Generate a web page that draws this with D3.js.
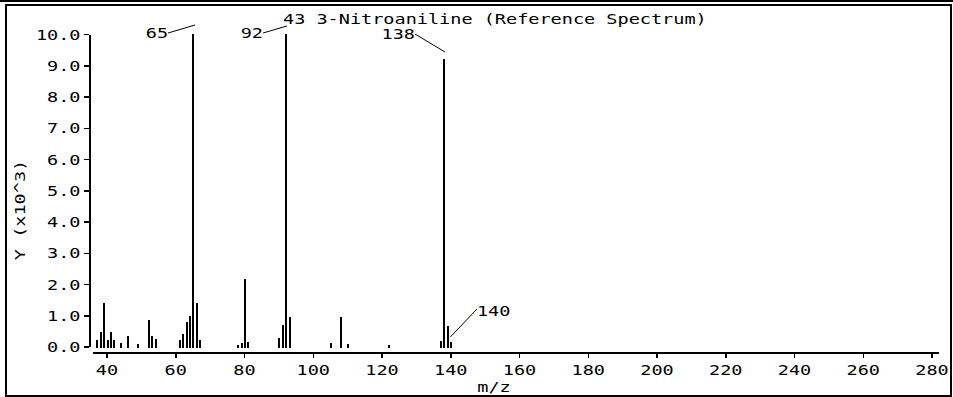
<!DOCTYPE html>
<html>
<head>
<meta charset="utf-8">
<script src="https://cdn.jsdelivr.net/npm/d3@7/dist/d3.min.js"></script>
<style>
  html, body { margin: 0; padding: 0; background: #fff; }
  svg { display: block; }
  text { font-family: "DejaVu Sans Mono", monospace; font-size: 14px; fill: #000; }
</style>
</head>
<body>
<svg id="chart" width="953" height="397"></svg>
<script>
// ---- data (intensity in units of 10^3) ----
const mzValues = [37, 38, 39, 40, 41, 42, 44, 46, 49, 52, 53, 54,
                  61, 62, 63, 64, 65, 66, 67,
                  78, 79, 80, 81, 90, 91, 92, 93,
                  105, 108, 110, 122, 137, 138, 139, 140];
const intensities = [0.22, 0.47, 1.40, 0.22, 0.47, 0.22, 0.10, 0.35, 0.07, 0.85, 0.35, 0.23,
                     0.22, 0.40, 0.80, 0.97, 10.0, 1.40, 0.20,
                     0.05, 0.10, 2.16, 0.15, 0.28, 0.70, 10.0, 0.95,
                     0.10, 0.95, 0.07, 0.06, 0.17, 9.2, 0.65, 0.13];
const labeledPeaks = [65, 92, 138, 140];
const xTickValues = [40, 60, 80, 100, 120, 140, 160, 180, 200, 220, 240, 260, 280];
const yTickValues = [0, 1, 2, 3, 4, 5, 6, 7, 8, 9, 10];
const titleText = "43 3-Nitroaniline (Reference Spectrum)";
const xLabel = "m/z";
const yLabel = "Y (x10^3)";

// ---- layout ----
const CH = 11.15; // character advance of the wide monospace look
const svg = d3.select("#chart");
const x = d3.scaleLinear().domain([36, 282]).range([92.75, 938.4]);
const y = d3.scaleLinear().domain([0, 10]).range([346.5, 34]);
const xAxisY = 352.5, yAxisX = 89;

// label leader offsets (relative to peak top): [lineStartDx, lineStartDy, lineEndDx, lineEndDy, anchor, textDy]
const labelLayout = {
  65:  [2.6, -9, -24.4, -1, "end", 5],
  92:  [1.75, -8, -22.25, -1, "end", 5],
  138: [1.6, -7, -28.4, -25, "end", 4.5],
  140: [0, -5.4, 26.7, -33.4, "start", 7]
};

function fitText(sel) {
  sel.each(function() {
    const t = d3.select(this);
    const n = (t.text() || "").length;
    t.attr("textLength", n * CH).attr("lengthAdjust", "spacingAndGlyphs");
  });
}

// frame
svg.append("line").attr("x1", 0).attr("x2", 953).attr("y1", 1).attr("y2", 1)
  .attr("stroke", "#000").attr("stroke-width", 1.5).attr("shape-rendering", "crispEdges");
svg.append("rect").attr("x", 6).attr("y", 4.5).attr("width", 945).attr("height", 391)
  .attr("fill", "none").attr("stroke", "#000").attr("stroke-width", 2)
  .attr("shape-rendering", "crispEdges");

// axes
const xAxis = d3.axisBottom(x).tickValues(xTickValues).tickSize(5).tickSizeOuter(0)
  .tickFormat(d3.format("d"));
const gx = svg.append("g").attr("transform", `translate(0,${xAxisY})`).call(xAxis);
const yAxis = d3.axisLeft(y).tickValues(yTickValues).tickSize(5).tickSizeOuter(0)
  .tickFormat(d3.format(".1f"));
const gy = svg.append("g").attr("transform", `translate(${yAxisX},0)`).call(yAxis);

[gx, gy].forEach(g => {
  g.attr("font-family", null).attr("font-size", null);
  g.select(".domain").attr("stroke", "#000").attr("stroke-width", 2).attr("shape-rendering", "crispEdges");
  g.selectAll(".tick line").attr("stroke", "#000").attr("stroke-width", 1.5).attr("shape-rendering", "crispEdges");
  g.selectAll(".tick text").attr("fill", "#000");
});
gx.selectAll(".tick text").attr("y", 22.5).attr("dy", 0).call(fitText);
gy.selectAll(".tick text").attr("x", -8.5).attr("dy", "0.36em").call(fitText);

// bars
const peaks = mzValues.map((m, i) => ({ mz: m, v: intensities[i] }));
svg.append("g").selectAll("line").data(peaks).join("line")
  .attr("x1", d => Math.round(x(d.mz)) + 1).attr("x2", d => Math.round(x(d.mz)) + 1)
  .attr("y1", y(0) + 1).attr("y2", d => y(d.v))
  .attr("stroke", "#000").attr("stroke-width", 2).attr("shape-rendering", "crispEdges");

// peak labels
const lab = svg.append("g");
labeledPeaks.forEach(m => {
  const p = peaks.find(d => d.mz === m);
  const L = labelLayout[m];
  const px = x(p.mz), py = y(p.v);
  lab.append("line")
    .attr("x1", px + L[0]).attr("y1", py + L[1])
    .attr("x2", px + L[2]).attr("y2", py + L[3])
    .attr("stroke", "#000").attr("stroke-width", 1);
  lab.append("text")
    .attr("x", px + L[2]).attr("y", py + L[3] + L[5])
    .attr("text-anchor", L[4])
    .text(String(m)).call(fitText);
});

// title and axis labels
svg.append("text").attr("x", 283).attr("y", 24).attr("text-anchor", "start")
  .text(titleText).call(fitText);
svg.append("text").attr("x", 494).attr("y", 392).attr("text-anchor", "middle")
  .text(xLabel).call(fitText);
svg.append("text").attr("transform", "translate(24.5,210) rotate(-90)")
  .attr("text-anchor", "middle").text(yLabel).call(fitText);
</script>
</body>
</html>
